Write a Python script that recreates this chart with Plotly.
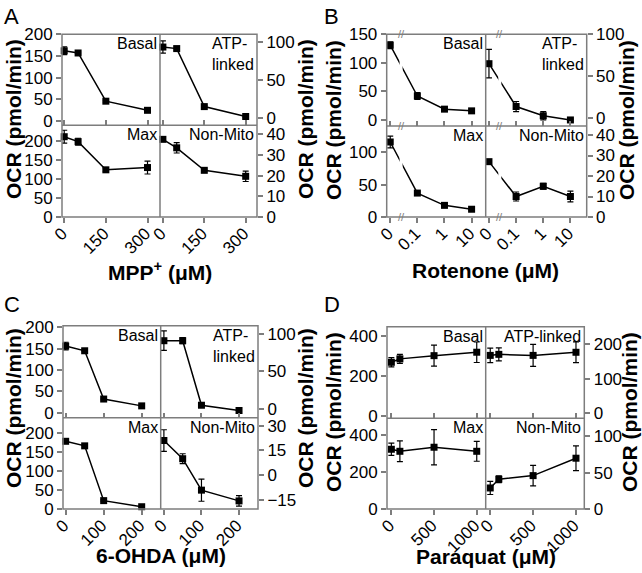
import plotly.graph_objects as go
import math

W, H = 642, 573

# ---------------- data ----------------
mpp_conc = [0, 50, 150, 300]
mpp_ticks = [0, 150, 300]
mpp_basal = [162, 157, 46, 25]
mpp_basal_err = [9, 2, 2, 2]
mpp_atp = [93, 91, 15, 2]
mpp_atp_err = [8, 2, 1.5, 1.5]
mpp_max = [211, 198, 124, 130]
mpp_max_err = [17, 9, 4, 17]
mpp_nonmito = [37.6, 33.5, 22.6, 19.7]
mpp_nonmito_err = [0.5, 2.5, 0.6, 2.5]

rot_conc = [0, 0.1, 1, 10]
rot_ticklabels = ["0", "0.1", "1", "10"]
rot_basal = [131, 42, 19, 16]
rot_basal_err = [6, 6, 1.5, 1.5]
rot_atp = [65, 14, 3, -2]
rot_atp_err = [17, 6, 5, 1]
rot_max = [116, 37, 18, 12]
rot_max_err = [9, 2, 2, 1.5]
rot_nonmito = [27, 10, 15, 10]
rot_nonmito_err = [0.5, 2.2, 1.4, 2.6]

ohda_conc = [0, 50, 100, 200]
ohda_ticks = [0, 100, 200]
ohda_basal = [156, 145, 32, 16]
ohda_basal_err = [9, 2, 2, 2]
ohda_atp = [91, 91, 5, -2]
ohda_atp_err = [13, 4, 1, 1]
ohda_max = [178, 166, 22, 6]
ohda_max_err = [2, 3, 2, 1]
ohda_nonmito = [21, 10, -9, -15.5]
ohda_nonmito_err = [6.5, 3, 6.7, 3.2]

pq_conc = [0, 100, 500, 1000]
pq_ticks = [0, 500, 1000]
pq_basal = [267, 284, 300, 317]
pq_basal_err = [23, 22, 52, 51]
pq_atp = [167, 170, 167, 176]
pq_atp_err = [21, 19, 32, 30]
pq_max = [324, 313, 335, 313]
pq_max_err = [33, 56, 96, 54]
pq_nonmito = [29, 41, 46, 70]
pq_nonmito_err = [9, 4.6, 14, 17]


def rot_pos(c):
    # broken log axis: 0 is placed one decade left of 0.1
    return 0 if c == 0 else math.log10(c) + 2


rot_x = [rot_pos(c) for c in rot_conc]

# ---------------- layout config ----------------
GRAY = "#7d7d7d"
FONT = "Liberation Sans, Arial, sans-serif"
TICKFONT = dict(family=FONT, size=17, color="black")

panels = [
    dict(letter="A", letter_xy=(2, 2), xtitle="MPP<sup>+</sup> (μM)", xtitle_y=271,
         x=mpp_conc, tickvals=mpp_ticks, ticktext=[str(t) for t in mpp_ticks],
         xcols=[(62, 160), (160, 257)], yrows=[(34.3, 125.3), (125.3, 217)],
         xranges=[[-8, 345], [-10.5, 341]],
         series=[(mpp_basal, mpp_basal_err), (mpp_atp, mpp_atp_err),
                 (mpp_max, mpp_max_err), (mpp_nonmito, mpp_nonmito_err)],
         yranges=[[-9.5, 200], [-9.5, 109.7], [0, 241], [0, 44.4]],
         yticks=[[0, 50, 100, 150, 200], [0, 50, 100], [0, 50, 100, 150, 200], [0, 10, 20, 30, 40]],
         labels=["Basal", "ATP-<br>linked", "Max", "Non-Mito"],
         ytitle_x=(13, 305), ytitle_y=119, breaks=False),
    dict(letter="B", letter_xy=(322, 2), xtitle="Rotenone (μM)", xtitle_y=271,
         x=rot_x, tickvals=[rot_pos(c) for c in rot_conc], ticktext=rot_ticklabels,
         xcols=[(386.7, 485.7), (485.7, 586.7)], yrows=[(34.3, 126), (126, 217)],
         xranges=[[-0.13, 3.52], [-0.12, 3.6]],
         series=[(rot_basal, rot_basal_err), (rot_atp, rot_atp_err),
                 (rot_max, rot_max_err), (rot_nonmito, rot_nonmito_err)],
         yranges=[[-10.5, 150], [-9.2, 100], [0, 140.7], [0, 44.4]],
         yticks=[[0, 50, 100, 150], [0, 50, 100], [0, 50, 100], [0, 10, 20, 30, 40]],
         labels=["Basal", "ATP-<br>linked", "Max", "Non-Mito"],
         ytitle_x=(333, 626), ytitle_y=120, breaks=True),
    dict(letter="C", letter_xy=(2, 290), xtitle="6-OHDA (μM)", xtitle_y=555,
         x=ohda_conc, tickvals=ohda_ticks, ticktext=[str(t) for t in ohda_ticks],
         xcols=[(63, 160.7), (160.7, 258)], yrows=[(325.7, 417.7), (417.7, 509)],
         xranges=[[-7, 250], [-8.5, 250.5]],
         series=[(ohda_basal, ohda_basal_err), (ohda_atp, ohda_atp_err),
                 (ohda_max, ohda_max_err), (ohda_nonmito, ohda_nonmito_err)],
         yranges=[[-11.7, 203.7], [-11.6, 111], [0, 240], [-20.4, 34.8]],
         yticks=[[0, 50, 100, 150, 200], [0, 50, 100], [0, 50, 100, 150, 200], [-15, 0, 15, 30]],
         labels=["Basal", "ATP-<br>linked", "Max", "Non-Mito"],
         ytitle_x=(13, 305), ytitle_y=408, breaks=False),
    dict(letter="D", letter_xy=(322, 290), xtitle="Paraquat (μM)", xtitle_y=556,
         x=pq_conc, tickvals=pq_ticks, ticktext=[str(t) for t in pq_ticks],
         xcols=[(387, 485.7), (485.7, 584.3)], yrows=[(326.7, 418.3), (418.3, 509)],
         xranges=[[-51, 1105], [-53, 1097]],
         series=[(pq_basal, pq_basal_err), (pq_atp, pq_atp_err),
                 (pq_max, pq_max_err), (pq_nonmito, pq_nonmito_err)],
         yranges=[[-11.6, 444], [-15, 250], [0, 492], [0, 125]],
         yticks=[[0, 200, 400], [0, 100, 200], [0, 200, 400], [0, 50, 100]],
         labels=["Basal", "ATP-linked", "Max", "Non-Mito"],
         ytitle_x=(333, 629), ytitle_y=412, breaks=False),
]

fig = go.Figure()
layout = {}
annotations = []
shapes = []
FRAME = dict(color=GRAY, width=1.5)

k = 0
for p in panels:
    (xl, xm), (_, xr) = p["xcols"]
    (yt, ym), (_, yb) = p["yrows"]
    # panel frame + dividers
    shapes.append(dict(type="rect", xref="paper", yref="paper",
                       x0=xl / W, x1=xr / W, y0=1 - yb / H, y1=1 - yt / H,
                       line=FRAME, layer="above"))
    shapes.append(dict(type="line", xref="paper", yref="paper",
                       x0=xm / W, x1=xm / W, y0=1 - yb / H, y1=1 - yt / H,
                       line=FRAME, layer="above"))
    shapes.append(dict(type="line", xref="paper", yref="paper",
                       x0=xl / W, x1=xr / W, y0=1 - ym / H, y1=1 - ym / H,
                       line=FRAME, layer="above"))
    for c in range(4):
        k += 1
        sfx = "" if k == 1 else str(k)
        col = c % 2
        row = c // 2
        xa, ya = "x" + sfx, "y" + sfx
        x0, x1 = p["xcols"][col]
        y0, y1 = p["yrows"][row]
        vals, errs = p["series"][c]
        fig.add_trace(go.Scatter(
            x=p["x"], y=vals, xaxis=xa, yaxis=ya, mode="lines+markers",
            line=dict(color="black", width=1.5),
            marker=dict(symbol="square", size=7, color="black"),
            error_y=dict(type="data", array=errs, color="black", thickness=1.2, width=3),
            showlegend=False, cliponaxis=False))
        bottom = row == 1
        layout["xaxis" + sfx] = dict(
            domain=[x0 / W, x1 / W], range=p["xranges"][col], anchor=ya,
            showline=False, showgrid=False, zeroline=False, automargin=False,
            tickmode="array", tickvals=p["tickvals"], ticktext=p["ticktext"],
            ticks="outside" if bottom else "inside", ticklen=5, tickwidth=1.5, tickcolor=GRAY,
            showticklabels=bottom, tickangle=-45, tickfont=TICKFONT,
            ticklabelstandoff=-6, ticklabelshift=-2)
        layout["yaxis" + sfx] = dict(
            domain=[1 - y1 / H, 1 - y0 / H], range=p["yranges"][c], anchor=xa,
            side="right" if col == 1 else "left",
            showline=False, showgrid=False, zeroline=False, automargin=False,
            tickmode="array", tickvals=p["yticks"][c],
            ticks="outside", ticklen=5, tickwidth=1.5, tickcolor=GRAY,
            tickfont=TICKFONT)
        annotations.append(dict(
            text=p["labels"][c], xref=xa + " domain", yref=ya + " domain",
            x=1, y=1, xanchor="right", yanchor="top", align="left",
            xshift=-1, yshift=1, showarrow=False,
            font=dict(family=FONT, size=16, color="black")))
        if p["breaks"]:
            bx = 0.4
            shapes.append(dict(type="line", xref=xa, yref=ya + " domain",
                               x0=bx, x1=bx, y0=0.03, y1=0.97, layer="above",
                               line=dict(color="white", width=3)))
            ys = [0, 1] if row == 0 else [0]
            for yy in ys:
                annotations.append(dict(
                    text="//", xref=xa, yref=ya + " domain", x=bx, y=yy,
                    xanchor="center", yanchor="middle", showarrow=False,
                    font=dict(family=FONT, size=11, color=GRAY)))

    # panel texts
    annotations.append(dict(
        text=p["letter"], xref="paper", yref="paper",
        x=p["letter_xy"][0] / W, y=1 - p["letter_xy"][1] / H,
        xanchor="left", yanchor="top", showarrow=False,
        font=dict(family=FONT, size=22, color="black")))
    annotations.append(dict(
        text="<b>" + p["xtitle"] + "</b>", xref="paper", yref="paper",
        x=xm / W, y=1 - p["xtitle_y"] / H,
        xanchor="center", yanchor="middle", showarrow=False,
        font=dict(family=FONT, size=21, color="black")))
    for tx in p["ytitle_x"]:
        annotations.append(dict(
            text="<b>OCR (pmol/min)</b>", xref="paper", yref="paper",
            x=tx / W, y=1 - p["ytitle_y"] / H, textangle=-90,
            xanchor="center", yanchor="middle", showarrow=False,
            font=dict(family=FONT, size=21, color="black")))

fig.update_layout(
    width=W, height=H, margin=dict(l=0, r=0, t=0, b=0, autoexpand=False),
    paper_bgcolor="white", plot_bgcolor="white",
    font=dict(family=FONT, color="black"),
    annotations=annotations, shapes=shapes, **layout)

fig.write_html("out.html", config={"displayModeBar": False},
               post_script="document.body.style.margin='0';document.body.style.padding='0';")
